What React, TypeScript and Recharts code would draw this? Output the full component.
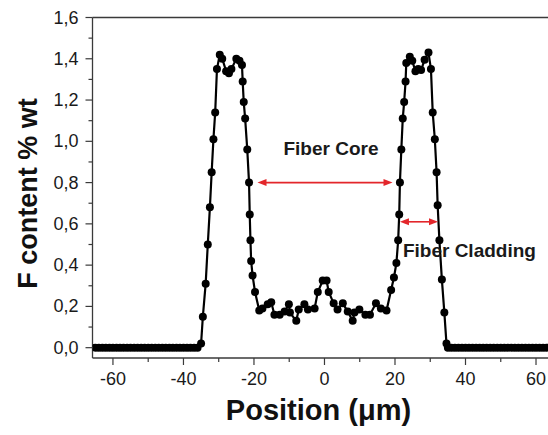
import React from 'react';
import { LineChart, Line, XAxis, YAxis, ReferenceLine } from 'recharts';

// position along the fibre (µm) and measured F content (% wt)
const position = [
  -65, -64, -63, -62, -61, -60, -59, -58, -57, -56,
  -55, -54, -53, -52, -51, -50, -49, -48, -47, -46,
  -45, -44, -43, -42, -41, -40, -39, -38, -37, -36,
  -35.0, -34.5, -33.7, -33.1, -32.5, -32.0, -31.5, -31.0, -30.5, -29.7,
  -29.0, -27.9, -27.1, -26.4, -25.0, -24.1, -23.4, -23.2, -22.9, -22.5,
  -21.9, -21.4, -21.2, -21.0, -20.8, -20.4, -19.7, -18.5,
  -17.6, -16.1, -15.1, -14.2, -12.7, -11.3, -10.1, -9.8, -8.0, -7.3,
  -5.7, -4.7, -2.8, -1.9, -0.5, 0.6, 1.2, 2.6, 3.7, 5.2,
  6.6, 8.0, 8.5, 9.9, 11.6, 12.9, 14.6, 16.0, 17.6,
  18.9, 19.7, 20.4, 20.9, 21.2, 21.4, 21.8, 22.2, 22.6, 23.0,
  23.2, 24.2, 24.9, 25.8, 26.6, 27.4, 28.4, 29.5, 30.2, 30.7,
  31.3, 31.8, 32.1, 32.6, 33.3, 34.0, 34.6,
  35, 36, 37, 38, 39, 40, 41, 42, 43, 44,
  45, 46, 47, 48, 49, 50, 51, 52, 53, 54,
  55, 56, 57, 58, 59, 60, 61, 62, 63,
];

const fContent = [
  0, 0, 0, 0, 0, 0, 0, 0, 0, 0,
  0, 0, 0, 0, 0, 0, 0, 0, 0, 0,
  0, 0, 0, 0, 0, 0, 0, 0, 0, 0,
  0.02, 0.15, 0.31, 0.50, 0.68, 0.85, 1.01, 1.14, 1.35, 1.42,
  1.40, 1.34, 1.33, 1.35, 1.40, 1.39, 1.37, 1.29, 1.19, 1.11,
  0.96, 0.80, 0.645, 0.52, 0.42, 0.35, 0.27, 0.18,
  0.19, 0.21, 0.22, 0.16, 0.16, 0.175, 0.21, 0.17, 0.13, 0.185,
  0.21, 0.185, 0.19, 0.27, 0.325, 0.325, 0.27, 0.215, 0.185, 0.215,
  0.175, 0.13, 0.17, 0.185, 0.16, 0.16, 0.215, 0.19, 0.18,
  0.28, 0.34, 0.41, 0.52, 0.645, 0.80, 0.96, 1.11, 1.19, 1.29,
  1.38, 1.41, 1.39, 1.34, 1.35, 1.345, 1.395, 1.43, 1.35, 1.14,
  1.01, 0.85, 0.69, 0.52, 0.33, 0.17, 0.02,
  0, 0, 0, 0, 0, 0, 0, 0, 0, 0,
  0, 0, 0, 0, 0, 0, 0, 0, 0, 0,
  0, 0, 0, 0, 0, 0, 0, 0, 0,
];

const xTicks = [-60, -50, -40, -30, -20, -10, 0, 10, 20, 30, 40, 50, 60];
const yTicks = [0, 0.1, 0.2, 0.3, 0.4, 0.5, 0.6, 0.7, 0.8, 0.9, 1.0, 1.1, 1.2, 1.3, 1.4, 1.5, 1.6];

// annotation arrows: [x, y] in data units
const coreArrow = [[-19.0, 0.8], [19.3, 0.8]];
const claddingArrow = [[21.4, 0.61], [32.2, 0.61]];

const FONT = '"Liberation Sans", Arial, Helvetica, sans-serif';
const AXIS = '#3a3a3a';
const RED = '#e3262b';

const data = position.map((x, i) => ({ x, y: fContent[i] }));

const XTick = ({ x, y, payload }: any) => {
  const major = payload.value % 20 === 0;
  return (
    <g>
      <line x1={x} y1={y} x2={x} y2={y + (major ? 7 : 4)} stroke={AXIS} strokeWidth={1.2} />
      {major && (
        <text x={x} y={y + 27} textAnchor="middle" fontSize={18} fontFamily={FONT} fill="#1a1a1a">
          {payload.value}
        </text>
      )}
    </g>
  );
};

const YTick = ({ x, y, payload }: any) => {
  const major = Math.round(payload.value * 10) % 2 === 0;
  return (
    <g>
      <line x1={x - (major ? 7 : 4)} y1={y} x2={x} y2={y} stroke={AXIS} strokeWidth={1.2} />
      {major && (
        <text x={x - 14} y={y + 6} textAnchor="end" fontSize={18} fontFamily={FONT} fill="#1a1a1a">
          {payload.value.toFixed(1).replace('.', ',')}
        </text>
      )}
    </g>
  );
};

const arrowShape = (text: string, dx: number, dy: number, anchor: string) => (p: any) => {
  const { x1, y1, x2, y2 } = p;
  const head = 9;
  const half = 3.5;
  return (
    <g>
      <line x1={x1 + head - 1} y1={y1} x2={x2 - head + 1} y2={y2} stroke={RED} strokeWidth={1.6} />
      <polygon points={`${x1},${y1} ${x1 + head},${y1 - half} ${x1 + head},${y1 + half}`} fill={RED} />
      <polygon points={`${x2},${y2} ${x2 - head},${y2 - half} ${x2 - head},${y2 + half}`} fill={RED} />
      <text
        x={anchor === 'middle' ? (x1 + x2) / 2 + dx : x1 + dx}
        y={y1 + dy}
        textAnchor={anchor}
        fontSize={19}
        fontWeight="bold"
        fontFamily={FONT}
        fill="#1a1a1a"
      >
        {text}
      </text>
    </g>
  );
};

const YTitle = ({ viewBox }: any) => (
  <text
    transform={`translate(${viewBox.x + 28}, ${viewBox.y + 176}) rotate(-90)`}
    textAnchor="middle"
    dominantBaseline="central"
    fontSize={27}
    fontWeight="bold"
    fontFamily={FONT}
    fill="#111"
  >
    F content % wt
  </text>
);

const XTitle = ({ viewBox }: any) => (
  <text
    x={viewBox.x + 226}
    y={viewBox.y + 62}
    textAnchor="middle"
    fontSize={29}
    fontWeight="bold"
    fontFamily={FONT}
    fill="#111"
  >
    Position (μm)
  </text>
);

export default function App() {
  return (
    <div style={{ position: 'absolute', left: 0, top: 0, width: 548, height: 435, background: '#fff' }}>
      <LineChart width={548} height={435} data={data} margin={{ top: 17.5, right: 0, bottom: 0, left: 0 }}>
        <XAxis
          dataKey="x"
          type="number"
          domain={[-65.8, 63.4]}
          allowDataOverflow
          ticks={xTicks}
          interval={0}
          height={77}
          tickSize={0}
          tickMargin={0}
          tickLine={false}
          tick={<XTick />}
          axisLine={{ stroke: AXIS, strokeWidth: 1.3 }}
          label={{ content: <XTitle /> }}
        />
        <YAxis
          type="number"
          domain={[-0.05, 1.6]}
          allowDataOverflow
          ticks={yTicks}
          interval={0}
          width={92.5}
          tickSize={0}
          tickMargin={0}
          tickLine={false}
          tick={<YTick />}
          axisLine={{ stroke: AXIS, strokeWidth: 1.3 }}
          label={{ content: <YTitle /> }}
        />
        <ReferenceLine y={1.6} stroke={AXIS} strokeWidth={1.3} />
        <Line
          dataKey="y"
          stroke="#000"
          strokeWidth={2.2}
          dot={{ r: 4, fill: '#000', stroke: '#000', strokeWidth: 0 }}
          activeDot={false}
          isAnimationActive={false}
        />
        <ReferenceLine
          segment={[{ x: coreArrow[0][0], y: coreArrow[0][1] }, { x: coreArrow[1][0], y: coreArrow[1][1] }]}
          shape={arrowShape('Fiber Core', 6, -28, 'middle')}
        />
        <ReferenceLine
          segment={[{ x: claddingArrow[0][0], y: claddingArrow[0][1] }, { x: claddingArrow[1][0], y: claddingArrow[1][1] }]}
          shape={arrowShape('Fiber Cladding', 3, 35, 'start')}
        />
      </LineChart>
    </div>
  );
}
